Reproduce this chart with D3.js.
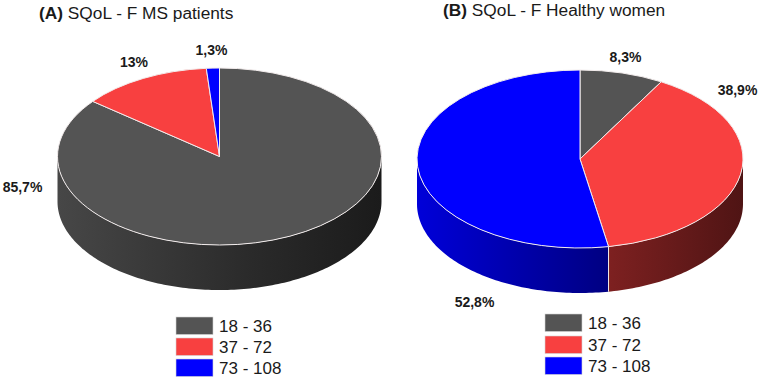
<!DOCTYPE html>
<html>
  <head>
    <meta charset="utf-8">
    <script src="https://cdn.jsdelivr.net/npm/d3@7"></script>
    <title>SQoL - F pies</title>
    <style>
      body { margin: 0; background: #fff; }
      text { font-family: "Liberation Sans", Arial, sans-serif; fill: #1a1a1a; }
    </style>
  </head>
  <body>
    <svg width="760" height="378"></svg>
    <script>
      // Values
      const categories = ['18 - 36', '37 - 72', '73 - 108'];
      const colors = ['#545454', '#f84040', '#0000ff'];
      const valuesA = [85.7, 13, 1.3];
      const valuesB = [8.3, 38.9, 52.8];
      const labelsA = ['85,7%', '13%', '1,3%'];
      const labelsB = ['8,3%', '38,9%', '52,8%'];

      // Panel layout, kept apart from the values
      const panels = [
        {
          id: 'a', letter: '(A)', title: ' SQoL - F MS patients', titleX: 39, titleY: 19,
          values: valuesA, labels: labelsA,
          cx: 219.5, cy: 156.5, rx: 162, ry: 88.5, depth: 45,
          labelPos: [[22.5, 187], [134, 62], [211.5, 50]],
          legendX: 176, legendY: [317, 338, 359]
        },
        {
          id: 'b', letter: '(B)', title: ' SQoL - F Healthy women', titleX: 443, titleY: 16,
          values: valuesB, labels: labelsB,
          cx: 580, cy: 159, rx: 163, ry: 89, depth: 45,
          labelPos: [[625.5, 57], [737.5, 90], [474.5, 302]],
          legendX: 545, legendY: [314, 336, 357]
        }
      ];

      const svg = d3.select('svg');
      const defs = svg.append('defs');

      // Wall shading goes from lighter on the left to dark on the right
      const shadeStops = [[0, 0.85], [0.6, 0.5], [1, 0.32]];
      const shade = (color, k) => {
        const c = d3.rgb(color);
        return d3.rgb(c.r * k, c.g * k, c.b * k).formatHex();
      };

      const pie = d3.pie().sort(null).value(d => d);
      const halfPi = Math.PI / 2;

      panels.forEach(p => {
        const g = svg.append('g');
        const x = d3.scaleLinear().domain([-1, 1]).range([p.cx - p.rx, p.cx + p.rx]);
        const y = d3.scaleLinear().domain([-1, 1]).range([p.cy - p.ry, p.cy + p.ry]);
        const arcs = pie(p.values);

        // one gradient per colour, spanning the whole pie
        colors.forEach((color, i) => {
          const grad = defs.append('linearGradient')
            .attr('id', `wall-${p.id}-${i}`)
            .attr('gradientUnits', 'userSpaceOnUse')
            .attr('x1', x(-1)).attr('x2', x(1))
            .attr('y1', 0).attr('y2', 0);
          shadeStops.forEach(s => {
            grad.append('stop')
              .attr('offset', s[0])
              .attr('stop-color', shade(color, s[1]));
          });
        });

        // Walls: only the front half of the ellipse can be seen
        const rim = d3.line().x(d => x(Math.sin(d))).y(d => y(-Math.cos(d)));
        const low = d3.line().x(d => x(Math.sin(d))).y(d => y(-Math.cos(d)) + p.depth);
        arcs.forEach((a, i) => {
          const start = Math.max(a.startAngle, halfPi);
          const end = Math.min(a.endAngle, 3 * halfPi);
          if (end <= start) return;
          const angles = d3.range(start, end, 0.02).concat([end]);
          g.append('path')
            .attr('d', `${rim(angles)}L${low(angles.slice().reverse()).slice(1)}Z`)
            .attr('fill', `url(#wall-${p.id}-${i})`);
          // white seam where two walls meet
          if (i > 0 && a.startAngle > halfPi && a.startAngle < 3 * halfPi) {
            const sx = x(Math.sin(a.startAngle));
            const sy = y(-Math.cos(a.startAngle));
            g.append('line')
              .attr('x1', sx).attr('x2', sx)
              .attr('y1', sy).attr('y2', sy + p.depth)
              .attr('stroke', '#f4e8e8').attr('stroke-width', 1);
          }
        });

        // Top face: circular arcs squashed into the ellipse
        const arc = d3.arc().innerRadius(0).outerRadius(p.rx);
        g.append('g')
          .attr('transform', `translate(${p.cx},${p.cy}) scale(1,${p.ry / p.rx})`)
          .selectAll('path').data(arcs)
          .enter().append('path')
            .attr('d', arc)
            .attr('fill', (d, i) => colors[i])
            .attr('stroke', '#f2ecec')
            .attr('stroke-width', 1)
            .attr('vector-effect', 'non-scaling-stroke');

        // Percent labels
        g.selectAll('text.pct').data(p.labels)
          .enter().append('text')
            .attr('class', 'pct')
            .attr('x', (d, i) => p.labelPos[i][0])
            .attr('y', (d, i) => p.labelPos[i][1])
            .attr('text-anchor', 'middle')
            .attr('dominant-baseline', 'central')
            .attr('font-size', 14)
            .attr('font-weight', 'bold')
            .text(d => d);

        // Title
        const title = g.append('text')
          .attr('x', p.titleX).attr('y', p.titleY)
          .attr('font-size', 17.3)
          .style('white-space', 'pre');
        title.append('tspan').attr('font-weight', 'bold').text(p.letter);
        title.append('tspan').text(p.title);

        // Legend
        const row = g.selectAll('g.row').data(categories)
          .enter().append('g')
            .attr('class', 'row')
            .attr('transform', (d, i) => `translate(${p.legendX},${p.legendY[i]})`);
        row.append('rect')
          .attr('width', 37).attr('height', 17.5)
          .attr('fill', (d, i) => colors[i])
          .attr('stroke', '#d4d4d4').attr('stroke-width', 0.6);
        row.append('text')
          .attr('x', 43).attr('y', 9)
          .attr('dominant-baseline', 'central')
          .attr('font-size', 17)
          .text(d => d);
      });
    </script>
  </body>
</html>
